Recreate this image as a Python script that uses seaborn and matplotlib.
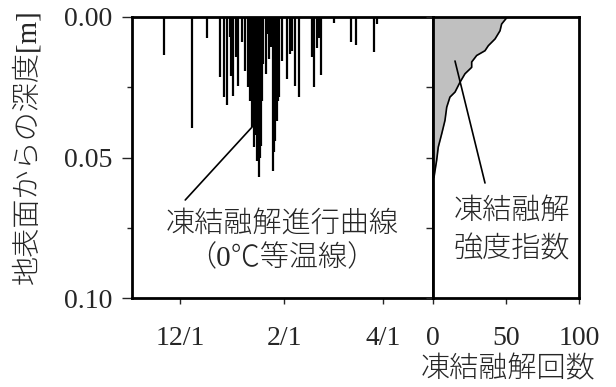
import pandas as pd
import seaborn as sns
import matplotlib.pyplot as plt
import numpy as np

# Freeze-thaw front (0 degC isotherm) events: days since Dec 1 and reached depth [m]
event_day = [-10.0, 7.0, 15.9, 23.9, 26.2, 27.8, 29.6, 30.4, 31.8, 33.4, 34.8, 36.8,
             38.8, 40.4, 41.7, 42.8, 43.5, 44.1, 44.9, 45.7, 46.3, 46.9, 47.5, 48.1,
             48.9, 49.7, 51.1, 52.1, 53.2, 54.3, 55.3, 56.0, 56.6, 57.7, 58.5, 59.2,
             60.6, 64.0, 65.6, 67.0, 68.6, 71.0, 78.9, 79.9, 81.5, 82.7, 83.9, 91.8,
             101.8, 104.8, 115.7, 117.3]
event_depth = [0.0135, 0.0394, 0.0075, 0.0213, 0.0284, 0.0313, 0.0071, 0.0210, 0.0281,
               0.0142, 0.0245, 0.0089, 0.0192, 0.0250, 0.0298, 0.0391, 0.0350, 0.0462,
               0.0420, 0.0512, 0.0480, 0.0568, 0.0500, 0.0458, 0.0300, 0.0167, 0.0202,
               0.0060, 0.0150, 0.0107, 0.0547, 0.0480, 0.0440, 0.0369, 0.0300, 0.0284,
               0.0156, 0.0220, 0.0131, 0.0121, 0.0245, 0.0284, 0.0142, 0.0249, 0.0110,
               0.0075, 0.0206, 0.0021, 0.0089, 0.0100, 0.0124, 0.0025]

# Freeze-thaw intensity index: count of cycles vs depth
index_count = [50.9, 47.0, 45.9, 42.5, 37.9, 35.6, 29.9, 26.5, 26.5, 21.9, 18.5, 15.1,
               11.6, 9.4, 8.2, 6.0, 3.6, 2.5, 1.4, 0.7, 0.0]
index_depth = [0.0, 0.0025, 0.0049, 0.0078, 0.0102, 0.0120, 0.0137, 0.0160, 0.0179,
               0.0202, 0.0232, 0.0267, 0.0285, 0.0321, 0.0368, 0.0415, 0.0463, 0.0510,
               0.0546, 0.0570, 0.0575]

date_ticks = ['2012-12-01', '2013-02-01', '2013-04-01']
date_labels = ['12/1', '2/1', '4/1']
depth_ticks = [0.0, 0.05, 0.10]
depth_labels = ['0.00', '0.05', '0.10']
count_ticks = [0, 50, 100]

base = pd.Timestamp('2012-12-01')
df_ev = pd.DataFrame({'date': base + pd.to_timedelta(event_day, unit='D'),
                      'depth': event_depth})
df_ix = pd.DataFrame({'count': index_count, 'depth': index_depth})

sns.set_style('ticks')
plt.rcParams['font.family'] = ['Liberation Serif', 'Noto Sans CJK JP']
plt.rcParams['axes.linewidth'] = 2.0
plt.rcParams['axes.edgecolor'] = 'black'

fig = plt.figure(figsize=(6.16, 3.87), dpi=100)
ax1 = fig.add_axes([131.7 / 616, 89 / 387, 301.3 / 616, 281 / 387])
ax2 = fig.add_axes([433 / 616, 89 / 387, 146 / 616, 281 / 387])


def px_date(x):
    return base + pd.Timedelta(days=(x - 180) / 1.677)


def px_depth(y):
    return (y - 17) / 2810


def px_count(x):
    return (x - 433) / 1.46


# left: freeze-thaw progress curve
ax1.vlines(df_ev['date'], 0, df_ev['depth'], color='black', lw=1.6)
ax1.set_xlim(pd.Timestamp('2012-11-02'), pd.Timestamp('2013-05-01'))
ax1.set_ylim(0.10, 0.0)
ax1.set_xticks(pd.to_datetime(date_ticks), date_labels)
ax1.set_yticks(depth_ticks, depth_labels)
ax1.set_yticks([0.025, 0.075], minor=True)
ax1.tick_params(axis='y', which='major', length=7, width=1, pad=7, labelsize=20)
ax1.tick_params(axis='y', which='minor', length=3.5, width=1)
ax1.tick_params(axis='x', length=4, width=1, pad=16, labelsize=20)
for s in ['top', 'right', 'left', 'bottom']:
    ax1.spines[s].set_visible(True)

ax1.annotate('', xy=(px_date(252), px_depth(127)), xytext=(px_date(185), px_depth(200)),
             arrowprops=dict(arrowstyle='-', lw=1.2, color='black', shrinkA=0, shrinkB=0))
ax1.text(px_date(282), px_depth(224.5), '凍結融解進行曲線', ha='center', va='center',
         fontsize=21, fontweight='light')
ax1.text(px_date(282), px_depth(258), '（0℃等温線）', ha='center', va='center',
         fontsize=21, fontweight='light')

# right: freeze-thaw intensity index
ax2.fill_betweenx(df_ix['depth'], 0, df_ix['count'], color='#c0c0c0', lw=0)
sns.lineplot(data=df_ix, x='count', y='depth', orient='y', sort=False,
             color='black', lw=1.2, ax=ax2)
ax2.set_xlim(0, 100)
ax2.set_ylim(0.10, 0.0)
ax2.set_xticks(count_ticks)
ax2.set_yticks(depth_ticks, [])
ax2.set_yticks([0.025, 0.075], minor=True)
ax2.tick_params(axis='y', which='major', length=5, width=1)
ax2.tick_params(axis='y', which='minor', length=5, width=1)
ax2.tick_params(axis='x', length=4, width=1, pad=16, labelsize=20)
ax2.set_xlabel('')
ax2.set_ylabel('')
for s in ['top', 'right', 'left', 'bottom']:
    ax2.spines[s].set_visible(True)

ax2.annotate('', xy=(px_count(485), px_depth(183)), xytext=(px_count(455), px_depth(61)),
             arrowprops=dict(arrowstyle='-', lw=1.2, color='black', shrinkA=0, shrinkB=0))
ax2.text(px_count(512), px_depth(211.5), '凍結融解', ha='center', va='center',
         fontsize=21, fontweight='light')
ax2.text(px_count(512), px_depth(250), '強度指数', ha='center', va='center',
         fontsize=21, fontweight='light')

fig.text(27 / 616, 1 - 147 / 387, '地表面からの深度[m]', rotation=90,
         ha='center', va='center', fontsize=21, fontweight='light')
fig.text(508 / 616, 1 - 370 / 387, '凍結融解回数', ha='center', va='center',
         fontsize=21, fontweight='light')

fig.savefig('out.png', dpi=100)
